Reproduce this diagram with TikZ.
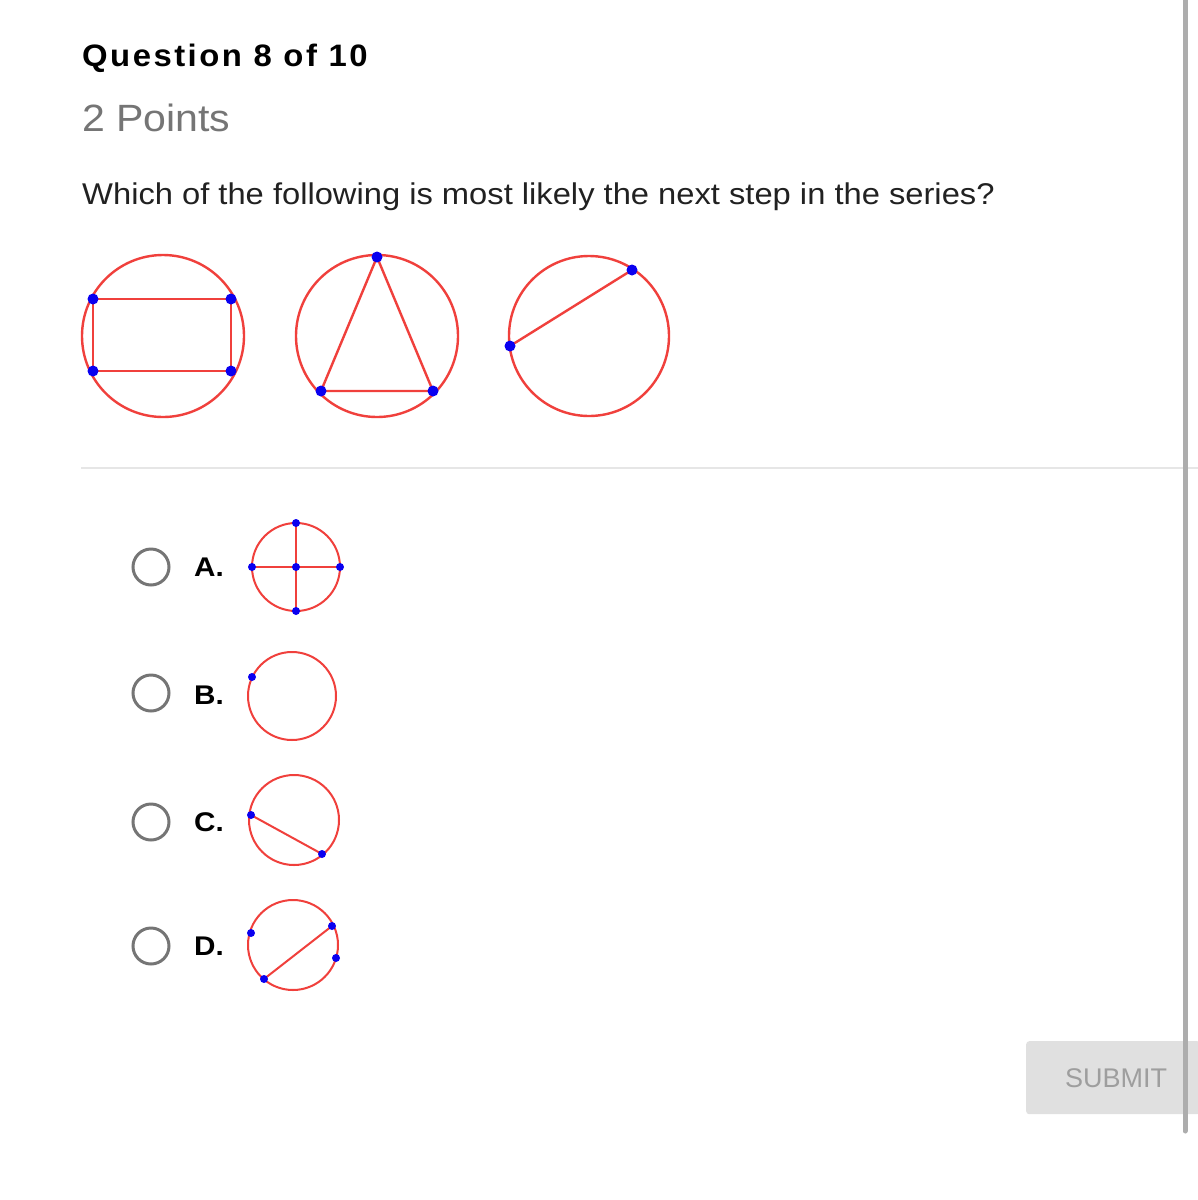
\documentclass[tikz,border=0pt]{standalone}
\usepackage{fontspec}
\setmainfont{Liberation Sans}
\newfontfamily\titlefont[LetterSpace=8,FakeStretch=1.06]{Liberation Sans}
\newfontfamily\qfont[FakeStretch=1.09]{Liberation Sans}
\newfontfamily\ptsfont[FakeStretch=1.08]{Liberation Sans}
\newfontfamily\labfont[FakeStretch=1.1]{Liberation Sans}
\definecolor{shapered}{HTML}{F0403C}
\definecolor{dotblue}{HTML}{0A00F0}
\definecolor{radiogray}{HTML}{757575}
\definecolor{pointsgray}{HTML}{757575}
\definecolor{qtext}{HTML}{212121}
\definecolor{sepgray}{HTML}{E6E6E6}
\definecolor{barray}{HTML}{ADADAD}
\definecolor{btnfill}{HTML}{E0E0E0}
\definecolor{btntext}{HTML}{9E9E9E}
\tikzset{
  fig/.style={draw=shapered, line width=2.4pt},
  ofig/.style={draw=shapered, line width=2pt},
  dot/.style={circle, fill=dotblue, inner sep=0pt, minimum size=11pt},
  smalldot/.style={circle, fill=dotblue, inner sep=0pt, minimum size=8pt},
  radio/.style={circle, draw=radiogray, line width=3pt, minimum size=36pt, inner sep=0pt},
  optlabel/.style={anchor=base west, inner sep=0pt, font=\fontsize{27}{30}\selectfont\labfont\bfseries},
}
\begin{document}
\begin{tikzpicture}[x=1pt,y=-1pt]
\useasboundingbox (0,0) rectangle (1198,1200);
\fill[white] (0,0) rectangle (1198,1200);

% texts
\node[anchor=base west, inner sep=0pt, font=\fontsize{31}{36}\selectfont\titlefont\bfseries] (title) at (82,66) {Question 8 of 10};
\node[anchor=base west, inner sep=0pt, text=pointsgray, font=\fontsize{38}{44}\selectfont\ptsfont] (points) at (82,131) {2 Points};
\node[anchor=base west, inner sep=0pt, text=qtext, font=\fontsize{30}{36}\selectfont\qfont] (question) at (82,204) {Which of the following is most likely the next step in the series?};

% figure 1: rectangle in circle
\draw[fig] (163,336) circle (81);
\coordinate (r1) at (93,299);
\coordinate (r2) at (231,299);
\coordinate (r3) at (231,371);
\coordinate (r4) at (93,371);
\draw[fig] (r1) -- (r2) -- (r3) -- (r4) -- cycle;
\foreach \p in {r1,r2,r3,r4} \node[dot] at (\p) {};

% figure 2: triangle
\draw[fig] (377,336) circle (81);
\coordinate (t1) at (377,257);
\coordinate (t2) at (433,391);
\coordinate (t3) at (321,391);
\draw[fig] (t1) -- (t2) -- (t3) -- cycle;
\foreach \p in {t1,t2,t3} \node[dot] at (\p) {};

% figure 3: chord
\draw[fig] (589,336) circle (80);
\coordinate (c1) at (632,270);
\coordinate (c2) at (510,346);
\draw[fig] (c1) -- (c2);
\foreach \p in {c1,c2} \node[dot] at (\p) {};

% separator
\coordinate (sepL) at (81,468);
\coordinate (sepR) at (1198,468);
\draw[sepgray, line width=1.8pt] (sepL) -- (sepR);

% options
\node[radio] (ra) at (151,567) {};
\node[radio] (rb) at (151,693) {};
\node[radio] (rc) at (151,822) {};
\node[radio] (rd) at (151,946) {};
\node[optlabel] (la) at (194,576) {A.};
\node[optlabel] (lb) at (194,704) {B.};
\node[optlabel] (lc) at (194,831) {C.};
\node[optlabel] (ld) at (194,955) {D.};

% option A
\draw[ofig] (296,567) circle (44);
\coordinate (a1) at (296,523);
\coordinate (a2) at (296,611);
\coordinate (a3) at (252,567);
\coordinate (a4) at (340,567);
\coordinate (a0) at (296,567);
\draw[ofig] (a1) -- (a2);
\draw[ofig] (a3) -- (a4);
\foreach \p in {a0,a1,a2,a3,a4} \node[smalldot] at (\p) {};

% option B
\draw[ofig] (292,696) circle (44);
\coordinate (b1) at (252,677);
\node[smalldot] at (b1) {};

% option C
\draw[ofig] (294,820) circle (45);
\coordinate (cc1) at (251,815);
\coordinate (cc2) at (322,854);
\draw[ofig] (cc1) -- (cc2);
\foreach \p in {cc1,cc2} \node[smalldot] at (\p) {};

% option D
\draw[ofig] (293,945) circle (45);
\coordinate (d1) at (251,933);
\coordinate (d2) at (332,926);
\coordinate (d3) at (336,958);
\coordinate (d4) at (264,979);
\draw[ofig] (d4) -- (d2);
\foreach \p in {d1,d2,d3,d4} \node[smalldot] at (\p) {};

% submit button
\node[fill=btnfill, rounded corners=3pt, minimum width=174pt, minimum height=73pt, inner sep=0pt, anchor=north west] (submit) at (1026,1041) {};
\node[text=btntext, font=\fontsize{27}{30}\selectfont, anchor=base] (submittext) at (1116,1087) {SUBMIT};

% scrollbar
\coordinate (sbTop) at (1185,0);
\coordinate (sbBot) at (1185,1131);
\draw[barray, line width=5pt, line cap=round] (sbTop) -- (sbBot);
\end{tikzpicture}
\end{document}
